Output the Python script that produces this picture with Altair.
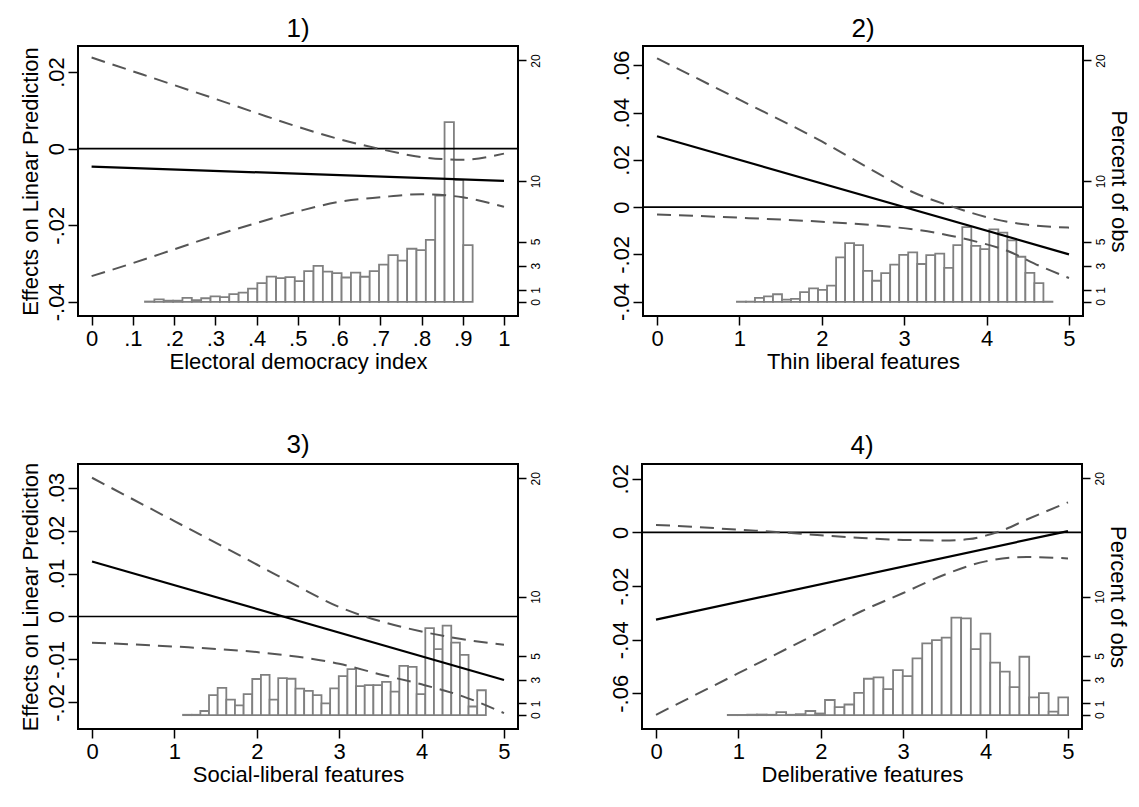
import altair as alt
import pandas as pd

FONT = "Liberation Sans"

# ---------------- data ----------------
right_ticks = [0, 1, 3, 5, 10, 20]

# Panel 1
p1_title = "1)"
p1_xlabel = "Electoral democracy index"
p1_hist_start = 0.1295
p1_hist_width = 0.0227
p1_hist_pct = [0.03, 0.2, 0.1, 0.1, 0.33, 0.15, 0.3, 0.46, 0.4, 0.65, 0.77, 1.1, 1.56,
               2.1, 1.97, 2.05, 1.72, 2.54, 2.98, 2.51, 2.38, 2.02, 2.43, 2.08, 2.54,
               3.09, 3.88, 3.42, 4.4, 4.29, 5.14, 8.8, 14.9, 10.1, 4.7]
p1_up_x = [0, .1, .2, .3, .4, .5, .6, .7, .8, .9, 1.0]
p1_up = [.0238, .0202, .0166, .0130, .0093, .0057, .0025, -.0001, -.0022, -.0029, -.0013]
p1_lo_x = [0, .1, .2, .3, .4, .5, .6, .7, .8, .9, 1.0]
p1_lo = [-.0333, -.0299, -.0263, -.0227, -.0194, -.0164, -.0139, -.0127, -.0119, -.0127, -.0152]
p1_fit_x = [0, 1]
p1_fit = [-.0047, -.0084]
p1_xticks = [0, .1, .2, .3, .4, .5, .6, .7, .8, .9, 1]
p1_yticks = [-.04, -.02, 0, .02]

# Panel 2
p2_title = "2)"
p2_xlabel = "Thin liberal features"
p2_hist_start = 0.97
p2_hist_width = 0.1094
p2_hist_pct = [0.02, 0.02, 0.33, 0.46, 0.63, 0.19, 0.25, 0.8, 1.12, 1.0, 1.34, 3.69, 4.86,
               4.7, 2.57, 1.75, 2.38, 3.09, 3.9, 4.1, 3.14, 3.88, 4.0, 2.81, 4.7, 6.2,
               4.64, 4.37, 6.0, 5.74, 5.1, 3.74, 2.4, 1.56, 0.02]
p2_up_x = [0, 1, 2, 2.65, 3.05, 3.6, 4.05, 4.45, 5.0]
p2_up = [.0630, .0455, .0278, .0149, .0072, .0000, -.0047, -.0073, -.0087]
p2_lo_x = [0, 1, 2, 2.65, 3.45, 3.85, 4.25, 4.65, 5.0]
p2_lo = [-.0031, -.0045, -.0062, -.0077, -.0113, -.0144, -.0185, -.0250, -.0300]
p2_fit_x = [0, 5]
p2_fit = [.030, -.020]
p2_yticks = [-.04, -.02, 0, .02, .04, .06]

# Panel 3
p3_title = "3)"
p3_xlabel = "Social-liberal features"
p3_hist_start = 1.105
p3_hist_width = 0.105
p3_hist_pct = [0.03, 0.03, 0.35, 1.69, 2.31, 1.31, 0.82, 1.77, 3.05, 3.4, 1.31, 3.13, 3.07,
               2.23, 2.04, 1.69, 1.0, 2.26, 3.29, 3.89, 2.45, 2.53, 2.53, 2.8, 1.99, 4.16,
               4.08, 1.77, 7.35, 5.58, 7.56, 6.12, 5.09, 0.73, 2.1]
p3_up_x = [0, 1, 2, 2.5, 3, 3.5, 4, 4.5, 5]
p3_up = [.0323, .0222, .0121, .0070, .0022, -.0011, -.0035, -.0053, -.0066]
p3_lo_x = [0, 1, 2, 2.5, 3, 3.5, 4, 4.5, 5]
p3_lo = [-.0061, -.0070, -.0083, -.0094, -.0110, -.0135, -.0158, -.0186, -.0225]
p3_fit_x = [0, 5]
p3_fit = [.0128, -.0148]
p3_yticks = [-.02, -.01, 0, .01, .02, .03]

# Panel 4
p4_title = "4)"
p4_xlabel = "Deliberative features"
p4_hist_start = 0.871
p4_hist_width = 0.118
p4_hist_pct = [0.02, 0.02, 0.04, 0.05, 0.03, 0.25, 0.03, 0.08, 0.35, 0.14, 1.28, 0.68, 0.9,
               1.88, 3.07, 3.18, 2.2, 3.8, 3.3, 4.8, 6.06, 6.34, 6.55, 8.24, 8.16, 5.58,
               6.88, 4.44, 3.67, 2.37, 4.93, 1.5, 1.85, 0.3, 1.5]
p4_up_x = [0, .5, 1, 1.5, 2, 2.5, 3, 3.5, 3.8, 4.0, 4.2, 4.5, 5.0]
p4_up = [.0028, .0020, .0010, .0001, -.0011, -.0021, -.0028, -.0030, -.0025, -.0012, .0007, .0048, .0112]
p4_lo_x = [0, 1, 2, 2.5, 3, 3.5, 4, 4.5, 5]
p4_lo = [-.0680, -.0525, -.0370, -.0293, -.0226, -.0158, -.0108, -.0092, -.0097]
p4_fit_x = [0, 5]
p4_fit = [-.0325, .0005]
p4_yticks = [-.06, -.04, -.02, 0, .02]

x5_ticks = [0, 1, 2, 3, 4, 5]

# ---------------- helpers ----------------
W = 440
H_TOP, H_BOTTOM = 270, 265
FS = 22
X1_EXPR = "datum.value == 0 ? '0' : datum.value == 1 ? '1' : replace(format(datum.value, '.1f'), '0.', '.')"
X5_EXPR = "format(datum.value, 'd')"
Y_EXPR = "datum.value == 0 ? '0' : replace(replace(format(datum.value, '.2f'), '0.', '.'), '\u2212', '-')"


def panel(title, xlabel, hstart, hwidth, pct, up_x, up, lo_x, lo, fit_x, fit,
          xdom, xticks, xexpr, ydom, yticks, rdom, left_title, right_title, height):
    n = len(pct)
    hist = pd.DataFrame({
        "x0": [hstart + i * hwidth for i in range(n)],
        "x1": [hstart + (i + 1) * hwidth for i in range(n)],
        "pct": pct,
    })
    ci = pd.concat([
        pd.DataFrame({"x": up_x, "y": up, "s": "upper"}),
        pd.DataFrame({"x": lo_x, "y": lo, "s": "lower"}),
    ])
    fitdf = pd.DataFrame({"x": fit_x, "y": fit})
    zero = pd.DataFrame({"z": [0.0]})

    xs = alt.Scale(domain=xdom, nice=False, zero=False)
    ys = alt.Scale(domain=ydom, nice=False, zero=False)
    rs = alt.Scale(domain=rdom, nice=False, zero=False)

    xaxis = alt.Axis(values=xticks, labelExpr=xexpr, title=xlabel, labelFlush=False,
                     labelOverlap=False, labelPadding=3, titlePadding=2, tickSize=9)
    ykw = dict(orient="left", values=yticks, labelExpr=Y_EXPR,
               labelAngle=270, labelAlign="center", labelBaseline="bottom",
               labelPadding=0, tickSize=10, labelFlush=False, labelOverlap=False)
    if left_title:
        yaxis = alt.Axis(title=left_title, titlePadding=3, **ykw)
    else:
        yaxis = alt.Axis(title=None, **ykw)
    rkw = dict(orient="right", values=right_ticks,
               labelAngle=270, labelAlign="center", labelBaseline="top",
               labelFontSize=12, labelPadding=4, tickSize=8,
               labelFlush=False, labelOverlap=False)
    if right_title:
        raxis = alt.Axis(title=right_title, titlePadding=0, **rkw)
    else:
        raxis = alt.Axis(title=None, **rkw)

    bars = alt.Chart(hist).mark_bar(fill="white", stroke="#808080", strokeWidth=1.8).encode(
        x=alt.X("x0:Q", scale=xs, axis=xaxis),
        x2="x1:Q",
        y=alt.Y("pct:Q", scale=rs, axis=raxis),
        y2=alt.datum(0),
    )
    zline = alt.Chart(zero).mark_rule(color="black", strokeWidth=1.6).encode(
        y=alt.Y("z:Q", scale=ys, axis=yaxis),
    )
    cil = alt.Chart(ci).mark_line(color="#555555", strokeWidth=2, strokeDash=[14, 8],
                                  interpolate="monotone").encode(
        x=alt.X("x:Q", scale=xs, axis=xaxis),
        y=alt.Y("y:Q", scale=ys, axis=yaxis),
        detail="s:N",
    )
    fl = alt.Chart(fitdf).mark_line(color="black", strokeWidth=2.2).encode(
        x=alt.X("x:Q", scale=xs, axis=xaxis),
        y=alt.Y("y:Q", scale=ys, axis=yaxis),
    )
    left = alt.layer(zline, cil, fl)
    return alt.layer(bars, left).resolve_scale(y="independent").properties(
        width=W, height=height, title=alt.TitleParams(title))


XD5 = [-0.17, 5.17]
RD = [-1.17, 21.2]

c1 = panel(p1_title, p1_xlabel, p1_hist_start, p1_hist_width, p1_hist_pct,
           p1_up_x, p1_up, p1_lo_x, p1_lo, p1_fit_x, p1_fit,
           [-0.033, 1.034], p1_xticks, X1_EXPR, [-0.0437, 0.0268], p1_yticks, RD,
           "Effects on Linear Prediction", None, H_TOP)
c2 = panel(p2_title, p2_xlabel, p2_hist_start, p2_hist_width, p2_hist_pct,
           p2_up_x, p2_up, p2_lo_x, p2_lo, p2_fit_x, p2_fit,
           XD5, x5_ticks, X5_EXPR, [-0.0461, 0.0682], p2_yticks, RD,
           None, "Percent of obs", H_TOP)
c3 = panel(p3_title, p3_xlabel, p3_hist_start, p3_hist_width, p3_hist_pct,
           p3_up_x, p3_up, p3_lo_x, p3_lo, p3_fit_x, p3_fit,
           XD5, x5_ticks, X5_EXPR, [-0.0262, 0.0355], p3_yticks, RD,
           "Effects on Linear Prediction", None, H_BOTTOM)
c4 = panel(p4_title, p4_xlabel, p4_hist_start, p4_hist_width, p4_hist_pct,
           p4_up_x, p4_up, p4_lo_x, p4_lo, p4_fit_x, p4_fit,
           XD5, x5_ticks, X5_EXPR, [-0.0733, 0.0255], p4_yticks, RD,
           None, "Percent of obs", H_BOTTOM)

row1 = alt.hconcat(c1, c2, spacing=66)
row2 = alt.hconcat(c3, c4, spacing=66)

chart = alt.vconcat(row1, row2, spacing=58).properties(
    padding={"left": 9, "top": 7, "right": 0, "bottom": 0},
    background="white",
).configure_view(
    stroke="black", strokeWidth=2
).configure_axis(
    domain=False, grid=False, tickColor="black", tickWidth=1.5,
    labelFont=FONT, titleFont=FONT, labelFontSize=FS, titleFontSize=FS,
    labelColor="black", titleColor="black", titleFontWeight="normal",
).configure_title(
    font=FONT, fontSize=26, fontWeight="normal", anchor="middle", offset=4, color="black",
)

chart.save("out.html", embed_options={"renderer": "svg", "actions": False})
